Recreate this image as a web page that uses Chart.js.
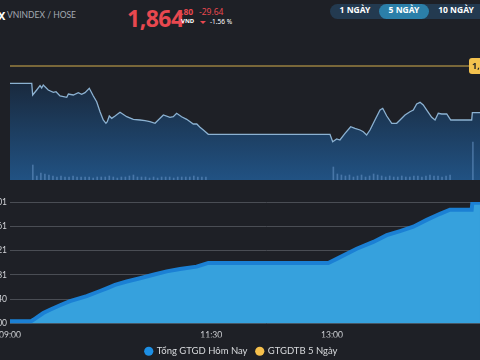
<!DOCTYPE html>
<html lang="vi">
<head>
<meta charset="UTF-8">
<title>VNINDEX / HOSE</title>
<script src="https://cdn.jsdelivr.net/npm/chart.js"></script>
<style>
  html, body { margin: 0; padding: 0; width: 480px; height: 360px; overflow: hidden; background: #1e2026; font-family: "Noto Sans", sans-serif; }
  .abs { position: absolute; white-space: nowrap; }
  #xmark { left: -2px; top: 8px; color: #fff; font: bold 11px "Noto Sans", sans-serif; }
  #sym { left: 7px; top: 10px; color: #a4aab2; font: 8.5px Lato, sans-serif; }
  #price { left: 127px; top: 2px; color: #e8484f; font: bold 23px "Noto Sans", sans-serif; letter-spacing: -0.5px; }
  #dec { left: 181px; top: 6px; color: #e8484f; font: bold 8.5px "Noto Sans", sans-serif; }
  #vnd { left: 181px; top: 17px; color: #fff; font: bold 6px "Noto Sans", sans-serif; }
  #chg { left: 199px; top: 6px; color: #e8484f; font-size: 8.5px; }
  #tri { left: 200px; top: 21px; width: 0; height: 0; border-left: 3px solid transparent; border-right: 3px solid transparent; border-top: 3px solid #e8484f; }
  #pct { left: 210px; top: 17px; color: #fff; font-size: 6.5px; }
  #tabs { left: 330px; top: 4px; width: 170px; height: 15px; border-radius: 8px; background: #233a50; }
  .tab { top: 4px; height: 15px; line-height: 15px; color: #fff; font: bold 8.5px "Noto Sans", sans-serif; text-align: center; }
  #t5 { background: #2b7fa9; border-radius: 8px; }
  canvas { position: absolute; }
</style>
</head>
<body>
<div id="xmark" class="abs">X</div>
<div id="sym" class="abs">VNINDEX / HOSE</div>
<div id="price" class="abs">1,864</div>
<div id="dec" class="abs">.80</div>
<div id="vnd" class="abs">VND</div>
<div id="chg" class="abs">-29.64</div>
<div id="tri" class="abs"></div>
<div id="pct" class="abs">-1.56 %</div>
<div id="tabs" class="abs"></div>
<div class="abs tab" style="left:334px;width:42px">1 NGÀY</div>
<div id="t5" class="abs tab" style="left:379px;width:50px">5 NGÀY</div>
<div class="abs tab" style="left:434px;width:44px">10 NGÀY</div>

<canvas id="priceChart" width="480" height="140" style="left:0;top:40px"></canvas>
<canvas id="valueChart" width="563" height="183" style="left:-40px;top:183px"></canvas>

<script>
// minutes after 09:00
const priceMinutes = [0, 16.2, 16.9, 19.9, 22.4, 23.6, 24.8, 28.5, 32.3, 34.3, 37.3, 42.3, 43.5, 47.2, 50.9, 53.4, 55.9, 59.1, 62.1, 64.6,
  67.1, 69.5, 71.5, 72.5, 74.0, 75.8, 78.3, 82.0, 87.0, 91.9, 96.9, 100.6, 104.3, 108.1, 110.5, 114.3, 119.2, 121.7, 124.2, 127.9,
  131.7, 136.6, 139.2, 141.6, 144.1, 147.8, 238.5, 240.5, 243.5, 245.9, 249.7, 253.9, 257.1, 260.9, 263.3, 265.8, 268.3, 272.0,
  275.8, 277.8, 280.8, 284.5, 288.2, 290.7, 294.4, 298.1, 300.6, 303.1, 305.6, 308.0, 310.6, 314.3, 316.8, 319.2, 321.8, 325.5,
  328.5, 344.1, 344.6, 350.3];
const priceValues = [1883.46, 1883.46, 1876.03, 1879.21, 1881.94, 1880.48, 1882.38, 1879.21, 1877.75, 1878.13, 1875.40, 1874.57,
  1876.67, 1876.03, 1877.49, 1876.48, 1877.49, 1880.29, 1875.40, 1871.78, 1865.44, 1860.17, 1858.07, 1859.09, 1862.71, 1861.25,
  1862.71, 1865.05, 1862.26, 1860.61, 1860.17, 1859.72, 1859.09, 1858.07, 1860.17, 1863.34, 1861.88, 1862.26, 1864.42, 1862.26,
  1860.61, 1857.63, 1857.63, 1855.53, 1853.82, 1851.09, 1851.09, 1846.39, 1848.11, 1847.47, 1851.73, 1855.91, 1854.90, 1853.82,
  1852.74, 1850.65, 1853.82, 1860.17, 1866.51, 1867.59, 1862.71, 1858.07, 1858.07, 1860.17, 1863.34, 1865.44, 1866.51, 1870.32,
  1871.40, 1869.69, 1866.51, 1861.88, 1860.17, 1864.42, 1863.98, 1863.98, 1860.17, 1860.17, 1864.80, 1864.80];
const refPrice = 1894.44;

const volMinutes = [17, 20, 23, 26, 29, 32, 35, 38, 41, 44, 47, 50, 53, 56, 59, 62, 65, 68, 71, 74, 77, 80, 83, 86, 89, 92, 95, 98,
  101, 104, 107, 110, 113, 116, 119, 122, 125, 128, 131, 134, 137, 140, 143, 146,
  241, 244, 247, 250, 253, 256, 259, 262, 265, 268, 271, 274, 277, 280, 283, 286, 289, 292, 295, 298, 301, 304, 307, 310, 313,
  316, 319, 322, 325, 328, 345];
const volValues = [15, 4, 7, 6, 5, 4, 3, 4, 3, 3, 4, 3, 3, 3, 3, 2, 3, 3, 3, 4, 3, 2, 3, 3, 4, 5, 3, 3, 3, 2, 3, 2, 3, 3, 3, 2, 3, 3,
  3, 3, 4, 3, 3, 3,
  13, 6, 5, 4, 5, 3, 4, 5, 3, 4, 6, 5, 4, 3, 4, 3, 3, 4, 3, 3, 4, 4, 3, 4, 5, 4, 4, 3, 4, 5, 38];

const gtgdMinutes = [0, 15.7, 17.4, 24.8, 29.8, 37.3, 44.7, 57.2, 67.1, 72.1, 78.3, 87.0, 96.9, 106.8, 116.8, 126.7, 139.1, 147.8,
  237.2, 243.5, 258.4, 270.8, 280.8, 290.7, 300.6, 310.6, 320.5, 327.9, 344.1, 344.6, 350.3];
const gtgdValues = [1781, 1781, 2109, 3801, 4634, 5745, 6755, 8018, 9280, 9937, 10795, 11628, 12462, 13320, 14153, 14734, 15340,
  16249, 16249, 17259, 19784, 21476, 23168, 24178, 25263, 26955, 28470, 29480, 29480, 31197, 31197];
const avg5dValues = [];

const yTickValues = [1200, 7240.28, 13280.56, 19320.84, 25361.12, 31401.4];
const timeTicks = [0, 150, 240];
const timeLabels = ['09:00', '11:30', '13:00'];
const seriesNames = ['Tổng GTGD Hôm Nay', 'GTGDTB 5 Ngày'];

const toPoints = (xs, ys) => xs.map((x, i) => ({ x: x, y: ys[i] }));

// label box for the reference price line
const refLabel = {
  id: 'refLabel',
  afterDatasetsDraw(chart) {
    const c = chart.ctx;
    const y = chart.scales.y.getPixelForValue(refPrice);
    const x = 469;
    c.save();
    c.fillStyle = '#f4c24e';
    c.beginPath();
    c.roundRect(x, y - 8, 44, 16, 3);
    c.fill();
    c.fillStyle = '#1e2026';
    c.font = 'bold 9px "Noto Sans"';
    c.textBaseline = 'middle';
    c.fillText(refPrice.toLocaleString('en-US', { minimumFractionDigits: 2 }), x + 3, y + 0.5);
    c.restore();
  }
};

new Chart(document.getElementById('priceChart'), {
  type: 'line',
  data: {
    datasets: [
      {
        data: toPoints(priceMinutes, priceValues),
        borderColor: '#8cb2d2',
        borderWidth: 1.3,
        pointRadius: 0,
        fill: 'start',
        order: 2,
        backgroundColor: (ctx) => {
          const a = ctx.chart.chartArea;
          if (!a) return '#1c3350';
          const g = ctx.chart.ctx.createLinearGradient(0, a.top, 0, a.bottom);
          g.addColorStop(0, '#18202c');
          g.addColorStop(0.3, '#19293d');
          g.addColorStop(1, '#215283');
          return g;
        }
      },
      {
        type: 'bar',
        data: toPoints(volMinutes, volValues),
        yAxisID: 'yv',
        backgroundColor: 'rgba(120,165,215,0.45)',
        barThickness: 1,
        order: 1
      },
      {
        data: [{ x: 0, y: refPrice }, { x: 350.3, y: refPrice }],
        borderColor: '#d4ad4c',
        borderWidth: 1.2,
        pointRadius: 0,
        order: 0
      }
    ]
  },
  options: {
    responsive: false,
    animation: false,
    layout: { padding: { left: 10, right: 0, top: 0, bottom: 0 } },
    plugins: { legend: { display: false }, tooltip: { enabled: false } },
    scales: {
      x: { type: 'linear', display: false, offset: false, min: 0, max: 350.3 },
      y: { display: false, min: 1822.09, max: 1910.94 },
      yv: { display: false, min: 0, max: 140 }
    }
  },
  plugins: [refLabel]
});

new Chart(document.getElementById('valueChart'), {
  type: 'line',
  data: {
    datasets: [
      {
        label: seriesNames[0],
        data: toPoints(gtgdMinutes, gtgdValues),
        borderColor: '#1b80d4',
        backgroundColor: '#36a1dd',
        borderWidth: 4,
        pointRadius: 0,
        fill: 'start'
      },
      {
        label: seriesNames[1],
        data: avg5dValues,
        borderColor: '#f6c04c',
        backgroundColor: '#f6c04c',
        pointRadius: 0
      }
    ]
  },
  options: {
    responsive: false,
    animation: false,
    layout: { padding: { left: 0, right: 0, top: 19, bottom: 0 } },
    plugins: {
      tooltip: { enabled: false },
      legend: {
        position: 'bottom',
        labels: {
          color: '#d8dadd',
          font: { family: 'Lato', size: 9.5 },
          usePointStyle: true,
          pointStyle: 'circle',
          boxWidth: 6.5,
          boxHeight: 6.5,
          padding: 9,
          generateLabels(chart) {
            const items = Chart.defaults.plugins.legend.labels.generateLabels(chart);
            const dots = ['#1d8fe4', '#f6c04c'];
            items.forEach((it, i) => { it.fillStyle = dots[i]; it.strokeStyle = dots[i]; it.lineWidth = 0; });
            return items;
          }
        }
      }
    },
    scales: {
      x: {
        type: 'linear',
        min: 0,
        max: 382.35,
        grid: { display: false, drawTicks: false },
        border: { display: false },
        afterBuildTicks: (s) => { s.ticks = timeTicks.map(v => ({ value: v })); },
        afterFit: (s) => { s.height = 14; },
        ticks: {
          color: '#d0d2d6',
          font: { family: 'Lato', size: 8.5 },
          padding: 7,
          maxRotation: 0,
          callback: (v) => timeLabels[timeTicks.indexOf(v)]
        }
      },
      y: {
        min: yTickValues[0],
        max: yTickValues[yTickValues.length - 1],
        afterBuildTicks: (s) => { s.ticks = yTickValues.map(v => ({ value: v })); },
        afterFit: (s) => { s.width = 50; },
        grid: { color: '#4a4d54', lineWidth: 1, drawTicks: false },
        border: { display: false },
        ticks: {
          color: '#d0d2d6',
          font: { family: 'Lato', size: 8.5 },
          padding: 3,
          callback: (v) => Math.round(v).toLocaleString('en-US')
        }
      }
    }
  }
});
</script>
</body>
</html>
